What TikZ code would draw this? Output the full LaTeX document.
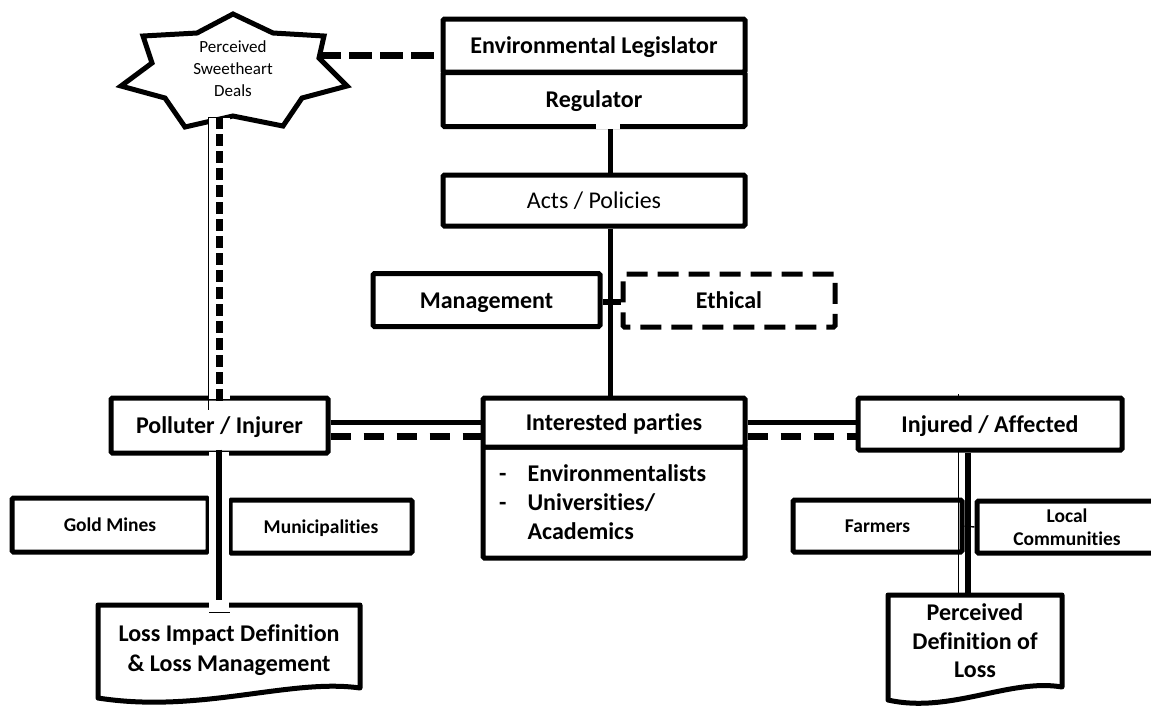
\documentclass[tikz,border=0pt]{standalone}
\usepackage{fontspec}
\setmainfont{Carlito}[Ligatures={NoCommon}]
\usetikzlibrary{calc,backgrounds}
\newcommand\fbig{\fontsize{24}{28}\selectfont\bfseries}
\newcommand\freg{\fontsize{24}{28}\selectfont}
\newcommand\fsmall{\fontsize{19.5}{23}\selectfont\bfseries}
\newcommand\fstar{\fontsize{17}{22}\selectfont}
\begin{document}
\begin{tikzpicture}[x=1pt,y=-1pt,
  box/.style={draw=black, line width=5pt, rounded corners=1.5pt, inner sep=0pt, align=center, font=\fbig, fill=white},
  one/.style={text height=16pt, text depth=0pt},
  onesmall/.style={text height=13pt, text depth=0pt},
  conn/.style={line width=5pt},
  dconn/.style={line width=7pt, dash pattern=on 20pt off 13pt},
  halo/.style={draw=white, line width=22pt},
  thinline/.style={line width=0.9pt}]
\useasboundingbox (0,0) rectangle (1151,705);
\clip (0,0) rectangle (1151,705);

% named coordinates
\coordinate (sp) at (610,0);
\coordinate (starR) at (318,55);
\coordinate (starB) at (219,117);

% star
\draw[line width=5pt, line join=miter, fill=white] (233,14) -- (273,33) -- (324,36) -- (319,58) -- (347,86) -- (302,98) -- (283,126) -- (233,116) -- (185,127) -- (165,98) -- (121,86) -- (152,63) -- (143,36) -- (197,33) -- cycle;
\node[font=\fstar, align=center, inner sep=0pt] (star) at (233,69) {Perceived\\Sweetheart\\Deals};

% boxes
\node[box, one, minimum width=302pt, minimum height=53pt] (leg) at (594,45.5) {Environmental Legislator};
\node[box, one, minimum width=302pt, minimum height=54pt] (reg) at (594,99.5) {Regulator};
\node[box, one, font=\freg, minimum width=302pt, minimum height=51pt] (acts) at (594,200.5) {Acts / Policies};
\node[box, one, minimum width=227pt, minimum height=53pt] (mgmt) at (486.5,300) {Management};
\node[box, one, dash pattern=on 21pt off 10pt, minimum width=212pt, minimum height=53pt] (eth) at (729,300.5) {Ethical};
\node[box, minimum width=262pt, minimum height=111pt] (intbody) at (614,502.5) {};
\node[box, one, minimum width=262pt, minimum height=49pt] (inthead) at (614,422.5) {Interested parties};
\node[anchor=west, font=\fontsize{24}{29}\selectfont\bfseries, inner sep=0pt] (intlist) at (499,505) {\begin{tabular}{@{}l@{\hspace{21pt}}l@{}}-&Environmentalists\\-&Universities/\\&Academics\end{tabular}};
\node[box, one, minimum width=217pt, minimum height=55pt] (pol) at (219.5,425.5) {Polluter / Injurer};
\node[box, one, minimum width=264pt, minimum height=52pt] (inj) at (990,424) {Injured / Affected};
\node[box, onesmall, font=\fsmall, minimum width=196pt, minimum height=54pt] (gold) at (110,525) {Gold Mines};
\node[box, onesmall, font=\fsmall, minimum width=182pt, minimum height=53pt] (muni) at (321,526.5) {Municipalities};
\node[box, onesmall, font=\fsmall, minimum width=169pt, minimum height=52pt] (farm) at (877.5,526) {Farmers};
\node[box, font=\fsmall, minimum width=180pt, minimum height=52pt] (local) at (1067,527) {Local\\Communities};

% connectors drawn below boxes
\begin{pgfonlayer}{background}
\fill[white] (0,0) rectangle (1151,705);
\draw[line width=7pt, dash pattern=on 23pt off 8pt] (starR) -- (starR -| leg.west);
\draw[conn] (pol.east |- inthead.west) -- (inthead.west);
\draw[dconn] ($(pol.east |- inthead.west)+(0,14)$) -- ($(inthead.west)+(0,14)$);
\draw[conn] (inthead.east) -- (inthead.east -| inj.west);
\draw[dconn] ($(inthead.east)+(0,14)$) -- ($(inthead.east -| inj.west)+(0,14)$);
\end{pgfonlayer}

% documents
\draw[line width=5pt, fill=white, line join=round] (98,605) -- (360,605) -- (360,688) .. controls (290,678) and (200,714) .. (98,698) -- cycle;
\node[font=\fontsize{24}{30}\selectfont\bfseries, align=center, inner sep=0pt] (loss) at (229,650) {Loss Impact Definition\\\& Loss Management};
\draw[line width=5pt, fill=white, line join=round] (888,595) -- (1062,595) -- (1062,687) .. controls (1010,678) and (950,714) .. (888,700) -- cycle;
\node[font=\fontsize{24}{28.5}\selectfont\bfseries, align=center, inner sep=0pt] (perc) at (975,641) {Perceived\\Definition of\\Loss};

% spine connectors
\draw[draw=white, line width=24pt] (608,123) -- (608,129);
\draw[conn] (reg.south -| sp) -- (acts.north -| sp);
\draw[conn] (acts.south -| sp) -- (inthead.north -| sp);
\draw[line width=6pt] ($(mgmt.east)+(0,2)$) -- ($(eth.west)+(0,1.5)$);

% star to polluter (double band)
\draw[halo] (starB) -- ($(starB |- pol.north)+(0,3)$);
\draw[thinline] ($(starB)+(-11,0)$) -- ($(starB)+(11,0)$);
\draw[thinline] ($(starB)+(-11,0)$) -- ($(starB |- pol.north)+(-11,14)$);
\draw[line width=7pt, dash pattern=on 12pt off 5pt] (starB) -- ($(starB |- pol.north)+(0,5)$);

% polluter to loss
\draw[draw=white, line width=20pt] ($(pol.south)+(-0.5,-4)$) -- (219,611);
\draw[line width=6pt] ($(pol.south)+(-0.5,-6)$) -- (219,600);
\draw[thinline] (209,612) -- (230,612);

% injured to perceived
\draw[thinline] (958,394) -- (958,398);
\draw[thinline] (958,451) -- (958,595);
\draw[line width=6pt] (inj.south -| 968,0) -- (968,595);
\draw[line width=1.4pt] (farm.east) -- (local.west);
\end{tikzpicture}
\end{document}
